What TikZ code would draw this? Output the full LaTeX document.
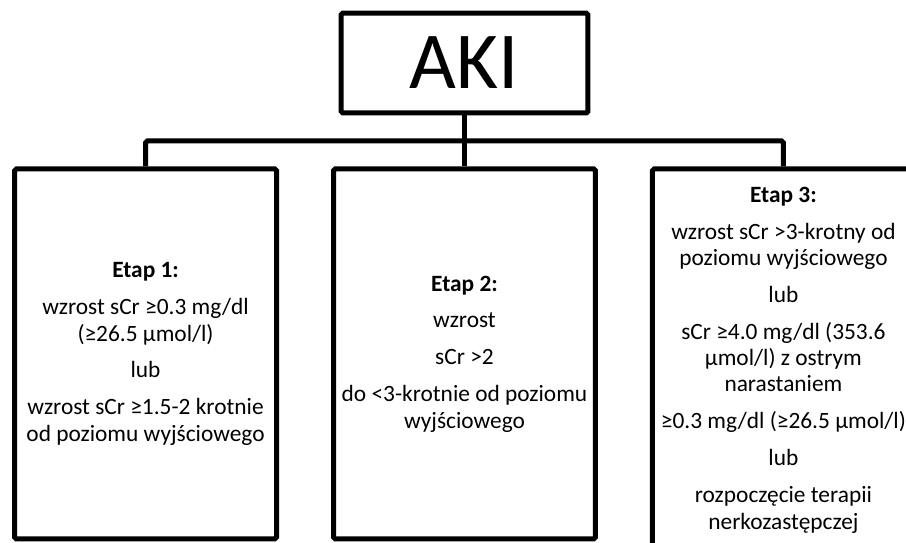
\documentclass[tikz,border=0pt]{standalone}
\usepackage{fontspec}
\setmainfont{Carlito}
\usetikzlibrary{calc,positioning}
\tikzset{
  rootbox/.style={draw=black, line width=0.1cm, rounded corners=1pt, align=center,
    minimum width=4.94cm, minimum height=2cm, inner sep=2pt,
    font=\fontsize{46pt}{50pt}\selectfont},
  stagebox/.style={draw=black, line width=0.1cm, rounded corners=1pt, align=center,
    minimum width=5.24cm, minimum height=7.4cm, inner sep=2pt,
    font=\fontsize{13.3pt}{15pt}\selectfont},
  link/.style={draw=black, line width=0.1cm, rounded corners=1pt}
}

\begin{document}
\begin{tikzpicture}[x=0.02cm, y=-0.02cm]
  \useasboundingbox (0,0) rectangle (906,542);
  \clip (0,0) rectangle (906,542);

  \node[rootbox] (aki) at (464.5,63) {AKI};

  \node[stagebox, below=1.02cm of aki] (e2) {\textbf{Etap 2:}\\[6pt]
    wzrost\\[6pt]
    sCr >2\\[6pt]
    do <3-krotnie od poziomu\\
    wyjściowego};
  \node[stagebox, left=1.04cm of e2] (e1) {\textbf{Etap 1:}\\[6pt]
    wzrost sCr ≥0.3 mg/dl\\
    (≥26.5 µmol/l)\\[6pt]
    lub\\[6pt]
    wzrost sCr ≥1.5-2 krotnie\\
    od poziomu wyjściowego};
  \node[stagebox, minimum height=7.64cm, below right=0cm and 1.04cm of e2.north east] (e3) {\textbf{Etap 3:}\\[6pt]
    wzrost sCr >3-krotny od\\
    poziomu wyjściowego\\[6pt]
    lub\\[6pt]
    sCr ≥4.0 mg/dl (353.6\\
    µmol/l) z ostrym\\
    narastaniem\\[6pt]
    \makebox[0pt]{≥0.3 mg/dl (≥26.5 µmol/l)}\\[6pt]
    lub\\[6pt]
    rozpoczęcie terapii\\
    nerkozastępczej};

  % tree connectors
  \coordinate (bus) at ($(aki.south)!0.5!(e2.north)$);
  \draw[link] (aki.south) -- (e2.north);
  \draw[link] (e1.north) |- (bus) -| (e3.north);
\end{tikzpicture}
\end{document}
